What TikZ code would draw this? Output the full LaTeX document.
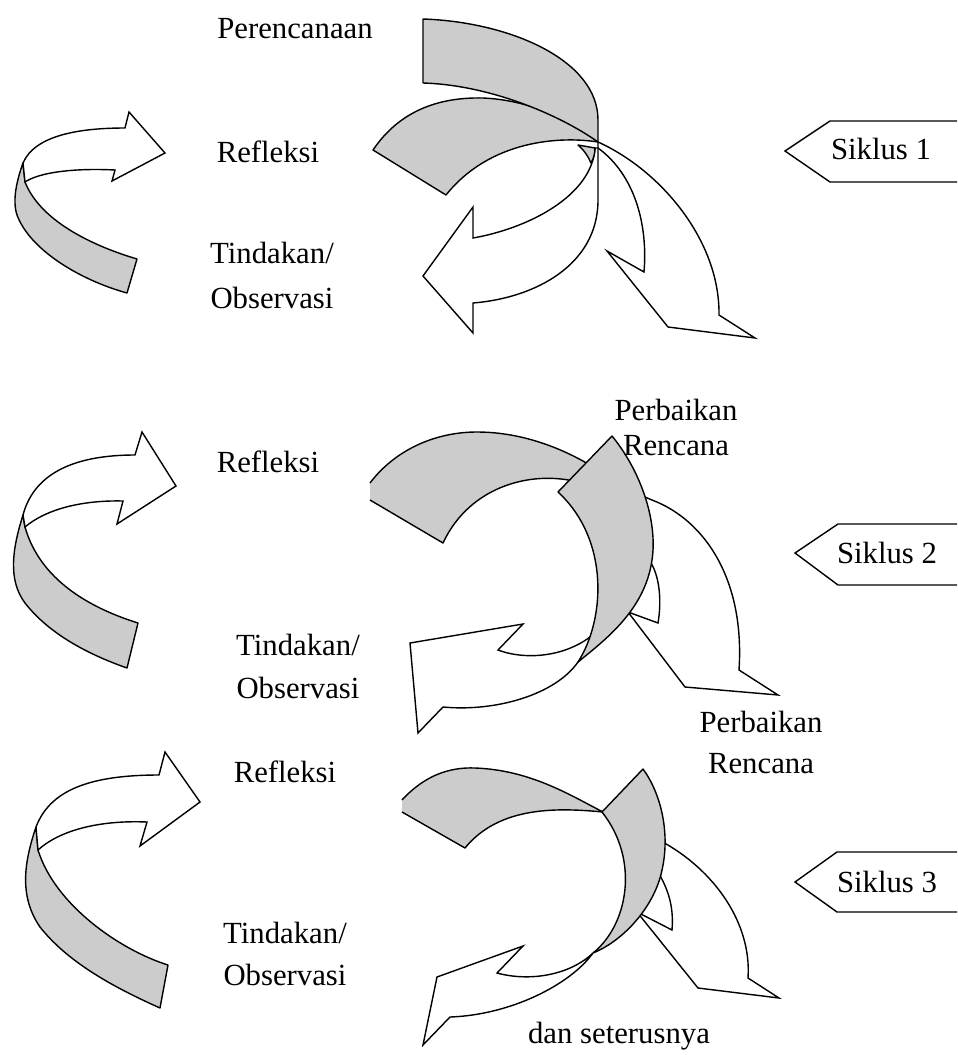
\documentclass[tikz,border=0pt]{standalone}
\usepackage{fontspec}
\setmainfont{Liberation Serif}
\usetikzlibrary{positioning}
\definecolor{bandgray}{RGB}{204,204,204}
\tikzset{
  band/.style={draw=black,fill=bandgray,line width=0.8pt,line join=round},
  wharr/.style={draw=black,fill=white,line width=0.8pt,line join=miter},
  tagline/.style={draw=black,line width=0.8pt},
  lbl/.style={font=\fontsize{17.5}{21}\selectfont,anchor=base,inner sep=0pt}
}

\begin{document}
\begin{tikzpicture}[x=0.02cm,y=-0.02cm]
  \useasboundingbox (0,0) rectangle (957,1055);

  % Left ribbons
  \draw[band] (23,163) .. controls (17,180) and (12,200) .. (17,215) .. controls (30,250) and (80,280) .. (127,293) -- (137,259) .. controls (90,245) and (40,220) .. (25,182) -- cycle;
  \draw[wharr] (23,163) .. controls (35,135) and (80,128) .. (125,128) -- (129,112) -- (165,153) -- (112,181) -- (115,170) .. controls (75,168) and (40,172) .. (25,182) -- cycle;

  \draw[band] (23,515) .. controls (12,550) and (8,580) .. (25,603) .. controls (50,635) and (90,655) .. (127,668) -- (138,623) .. controls (90,608) and (40,580) .. (25,527) -- cycle;
  \draw[wharr] (23,515) .. controls (35,470) and (80,455) .. (135,455) -- (142,432) -- (176,486) -- (117,524) -- (123,501) .. controls (80,500) and (45,510) .. (25,527) -- cycle;

  \draw[band] (36,827) .. controls (25,860) and (18,895) .. (40,927) .. controls (70,965) and (120,990) .. (160,1008) -- (168,965) .. controls (120,950) and (55,905) .. (38,850) -- cycle;
  \draw[wharr] (36,827) .. controls (50,790) and (90,775) .. (159,775) -- (165,752) -- (200,802) -- (140,846) -- (147,822) .. controls (100,820) and (60,830) .. (38,850) -- cycle;

  % Siklus 1
  \draw[wharr] (598,142) .. controls (660,170) and (720,240) .. (719,315) -- (755,338) -- (668,327) -- (607,251) -- (644,272) .. controls (648,225) and (635,175) .. (598,148) -- cycle;
  \draw[wharr] (598,148) -- (598,200) .. controls (598,265) and (535,298) .. (473,303) -- (473,333) -- (423,276) -- (473,207) -- (473,238) .. controls (530,228) and (592,195) .. (595,148) -- cycle;
  \draw[band] (578,145) .. controls (584,150) and (588,156) .. (591,163) .. controls (594,158) and (595,152) .. (595,148) -- cycle;
  \draw[band] (373,150) .. controls (400,110) and (440,97) .. (483,98) .. controls (530,100) and (570,120) .. (598,142) .. controls (560,136) and (490,140) .. (446,195) -- cycle;
  \draw[band] (423,19) .. controls (510,22) and (598,60) .. (598,120) -- (598,142) .. controls (560,115) and (490,85) .. (423,83) -- cycle;

  % Siklus 2
  \draw[wharr] (640,495) -- (652,500) .. controls (705,520) and (745,580) .. (739,670) -- (778,695) -- (685,687) -- (628,612) -- (658,623) .. controls (662,600) and (660,570) .. (645,555) -- cycle;
  \draw[wharr] (605,635) -- (578,662) .. controls (555,695) and (495,712) .. (443,707) -- (418,733) -- (410,643) -- (523,624) -- (498,650) .. controls (530,662) and (575,655) .. (600,628) -- cycle;
  \filldraw[band] (370,483) .. controls (395,450) and (435,432) .. (477,432) .. controls (530,432) and (580,455) .. (615,482) -- (600,490) -- (585,484) .. controls (535,468) and (470,485) .. (443,543) -- (370,500);
  \draw[band] (612,436) .. controls (640,470) and (658,520) .. (652,560) .. controls (645,610) and (605,640) .. (578,662) .. controls (605,620) and (610,540) .. (558,492) -- cycle;

  % Siklus 3
  \draw[wharr] (655,838) .. controls (710,865) and (752,920) .. (748,978) -- (779,998) -- (698,988) -- (637,912) -- (672,930) .. controls (674,905) and (668,885) .. (650,860) -- cycle;
  \draw[wharr] (593,953) .. controls (570,985) and (510,1015) .. (450,1017) -- (423,1045) -- (437,977) -- (523,946) -- (497,973) .. controls (530,982) and (570,975) .. (593,953) -- cycle;
  \filldraw[band] (402,800) .. controls (425,775) and (450,767) .. (475,768) .. controls (530,770) and (570,795) .. (603,812) .. controls (560,808) and (500,805) .. (465,848) -- (402,812);
  \draw[band] (643,769) .. controls (662,795) and (670,835) .. (662,870) .. controls (655,905) and (625,940) .. (593,953) .. controls (628,925) and (640,860) .. (602,812) -- cycle;

  % Tags
  \draw[tagline] (957,121) -- (830,121) -- (785,151) -- (830,182) -- (957,182);
  \draw[tagline] (957,524) -- (838,524) -- (795,553) -- (838,585) -- (957,585);
  \draw[tagline] (957,852) -- (837,852) -- (795,882) -- (837,912) -- (957,912);

  % Labels
  \node[lbl] (plan1) at (295,38) {Perencanaan};
  \node[lbl] (refl1) at (268,162) {Refleksi};
  \node[lbl] (act1a) at (272,263) {Tindakan/};
  \node[lbl] (act1b) at (272,308) {Observasi};
  \node[lbl] (rev1a) at (676,420) {Perbaikan};
  \node[lbl] (rev1b) at (676,455) {Rencana};
  \node[lbl] (sik1) at (881,159) {Siklus 1};

  \node[lbl] (refl2) at (268,472) {Refleksi};
  \node[lbl] (act2a) at (298,655) {Tindakan/};
  \node[lbl] (act2b) at (298,698) {Observasi};
  \node[lbl] (rev2a) at (761,732) {Perbaikan};
  \node[lbl] (rev2b) at (761,773) {Rencana};
  \node[lbl] (sik2) at (887,563) {Siklus 2};

  \node[lbl] (refl3) at (285,782) {Refleksi};
  \node[lbl] (act3a) at (285,943) {Tindakan/};
  \node[lbl] (act3b) at (285,985) {Observasi};
  \node[lbl] (sik3) at (887,892) {Siklus 3};
  \node[lbl] (etc) at (619,1043) {dan seterusnya};
\end{tikzpicture}
\end{document}
